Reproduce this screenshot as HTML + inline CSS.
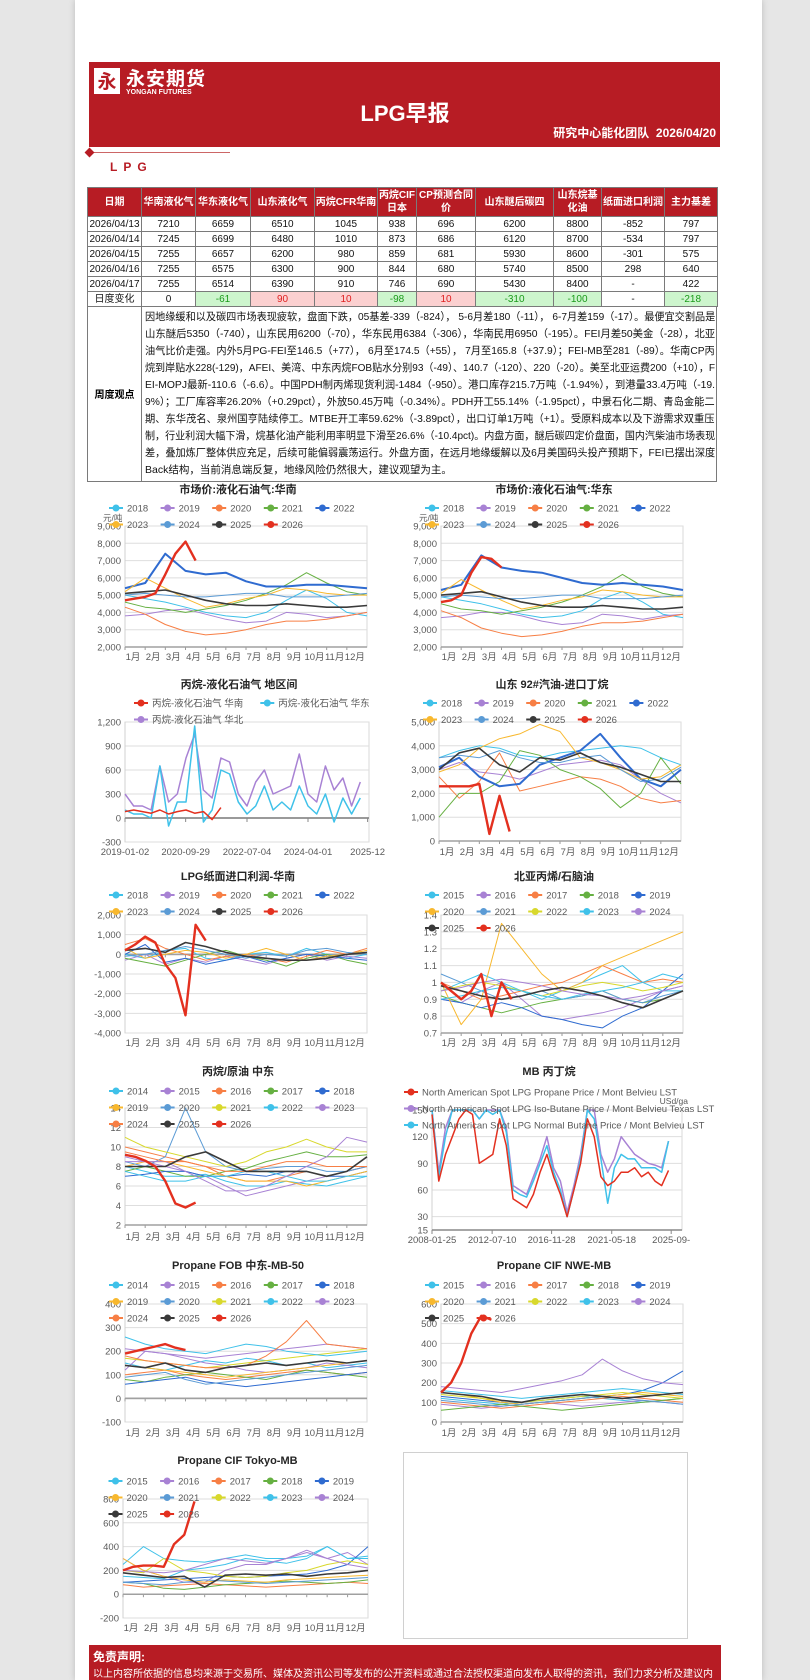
<!DOCTYPE html>
<html><head><meta charset="utf-8">
<style>
body{margin:0;width:810px;height:1680px;position:relative;overflow:hidden;background:#e6e6e6;font-family:"Liberation Sans","Noto Sans CJK SC",sans-serif;}
.abs{position:absolute;}
#sheet{left:75px;top:0;width:687px;height:1680px;background:#fff;box-shadow:0 0 6px #bbb;}
#band{left:89px;top:62px;width:631px;height:85px;background:#b71c24;}
table.dt{position:absolute;left:87px;top:187px;width:630px;border-collapse:collapse;table-layout:fixed;font-size:10px;color:#111;}
table.dt td{border:1px solid #7a7a7a;text-align:center;padding:0;height:14px;line-height:13px;white-space:nowrap;overflow:hidden;}
table.dt tr.hd td{background:#b71c24;color:#fff;font-weight:bold;height:28px;line-height:13px;white-space:normal;font-size:10px;}
td.g{background:#cdf5cd;color:#1a9a1a;}
td.r{background:#fbd0d0;color:#e02020;}
#txt{position:absolute;left:87px;top:306px;width:630px;height:176px;border:1px solid #7a7a7a;border-top:none;box-sizing:border-box;}
#txtlab{position:absolute;left:0;top:0;width:53px;height:175px;border-right:1px solid #7a7a7a;font-size:10px;font-weight:bold;display:flex;align-items:center;justify-content:center;}
.ln{position:absolute;left:57px;font-size:10.5px;white-space:nowrap;transform-origin:0 0;color:#111;}
#disc{left:89px;top:1645px;width:632px;height:35px;background:#b71c24;color:#fff;}
</style></head>
<body>
<div class="abs" id="sheet"></div>
<div class="abs" id="band"></div>
<div class="abs" style="left:94px;top:68px;width:26px;height:26px;background:#fff;color:#b71c24;font:bold 19px 'Noto Sans CJK SC',sans-serif;text-align:center;line-height:26px;">永</div>
<div class="abs" style="left:126px;top:64px;color:#fff;font:bold 19px 'Liberation Sans','Noto Sans CJK SC',sans-serif;letter-spacing:1px;">永安期货</div>
<div class="abs" style="left:126px;top:89px;color:#fff;font:bold 7px 'Liberation Sans',sans-serif;">YONGAN FUTURES</div>
<div class="abs" style="left:300px;top:96px;width:210px;text-align:center;color:#fff;font:bold 22px 'Liberation Sans','Noto Sans CJK SC',sans-serif;">LPG早报</div>
<div class="abs" style="left:440px;top:124px;width:276px;text-align:right;color:#fff;font:bold 12px 'Liberation Sans','Noto Sans CJK SC',sans-serif;">研究中心能化团队&nbsp; 2026/04/20</div>
<div class="abs" style="left:92px;top:152px;width:138px;height:1px;background:#c66;"></div>
<div class="abs" style="left:86px;top:149px;width:7px;height:7px;background:#b71c24;transform:rotate(45deg);"></div>
<div class="abs" style="left:110px;top:160px;color:#b71c24;font:bold 12px 'Liberation Sans',sans-serif;letter-spacing:6px;">LPG</div>

<table class="dt">
<colgroup><col style="width:54px"><col style="width:54px"><col style="width:55px"><col style="width:64px"><col style="width:63px"><col style="width:39px"><col style="width:59px"><col style="width:78px"><col style="width:48px"><col style="width:63px"><col style="width:53px"></colgroup>
<tr class="hd"><td>日期</td><td>华南液化气</td><td>华东液化气</td><td>山东液化气</td><td>丙烷CFR华南</td><td>丙烷CIF日本</td><td>CP预测合同价</td><td>山东醚后碳四</td><td>山东烷基化油</td><td>纸面进口利润</td><td>主力基差</td></tr>
<tr><td>2026/04/13</td><td>7210</td><td>6659</td><td>6510</td><td>1045</td><td>938</td><td>696</td><td>6200</td><td>8800</td><td>-852</td><td>797</td></tr>
<tr><td>2026/04/14</td><td>7245</td><td>6699</td><td>6480</td><td>1010</td><td>873</td><td>686</td><td>6120</td><td>8700</td><td>-534</td><td>797</td></tr>
<tr><td>2026/04/15</td><td>7255</td><td>6657</td><td>6200</td><td>980</td><td>859</td><td>681</td><td>5930</td><td>8600</td><td>-301</td><td>575</td></tr>
<tr><td>2026/04/16</td><td>7255</td><td>6575</td><td>6300</td><td>900</td><td>844</td><td>680</td><td>5740</td><td>8500</td><td>298</td><td>640</td></tr>
<tr><td>2026/04/17</td><td>7255</td><td>6514</td><td>6390</td><td>910</td><td>746</td><td>690</td><td>5430</td><td>8400</td><td>-</td><td>422</td></tr>
<tr><td>日度变化</td><td>0</td><td class="g">-61</td><td class="r">90</td><td class="r">10</td><td class="g">-98</td><td class="r">10</td><td class="g">-310</td><td class="g">-100</td><td>-</td><td class="g">-218</td></tr>
</table>
<div id="txt">
<div id="txtlab">周度观点</div>
<div class="ln" style="top:3px">因地缘缓和以及碳四市场表现疲软，盘面下跌，05基差-339（-824）， 5-6月差180（-11）， 6-7月差159（-17）。最便宜交割品是</div>
<div class="ln" style="top:20px">山东醚后5350（-740），山东民用6200（-70），华东民用6384（-306），华南民用6950（-195）。FEI月差50美金（-28），北亚</div>
<div class="ln" style="top:37px">油气比价走强。内外5月PG-FEI至146.5（+77）， 6月至174.5（+55）， 7月至165.8（+37.9）；FEI-MB至281（-89）。华南CP丙</div>
<div class="ln" style="top:54px">烷到岸贴水228(-129)，AFEI、美湾、中东丙烷FOB贴水分别93（-49）、140.7（-120）、220（-20）。美至北亚运费200（+10），F</div>
<div class="ln" style="top:71px">EI-MOPJ最新-110.6（-6.6）。中国PDH制丙烯现货利润-1484（-950）。港口库存215.7万吨（-1.94%），到港量33.4万吨（-19.</div>
<div class="ln" style="top:88px">9%）；工厂库容率26.20%（+0.29pct），外放50.45万吨（-0.34%）。PDH开工55.14%（-1.95pct），中景石化二期、青岛金能二</div>
<div class="ln" style="top:105px">期、东华茂名、泉州国亨陆续停工。MTBE开工率59.62%（-3.89pct），出口订单1万吨（+1）。受原料成本以及下游需求双重压</div>
<div class="ln" style="top:122px">制，行业利润大幅下滑，烷基化油产能利用率明显下滑至26.6%（-10.4pct)。内盘方面，醚后碳四定价盘面，国内汽柴油市场表现</div>
<div class="ln" style="top:139px">差，叠加炼厂整体供应充足，后续可能偏弱震荡运行。外盘方面，在远月地缘缓解以及6月美国码头投产预期下，FEI已摆出深度</div>
<div class="ln" style="top:156px">Back结构，当前消息端反复，地缘风险仍然很大，建议观望为主。</div>
</div>

<div class="abs" style="left:403px;top:1452px;width:285px;height:187px;border:1px solid #d0d0d0;box-sizing:border-box;"></div>
<div class="abs" id="disc">
<div style="position:absolute;left:4px;top:3px;font:bold 12px 'Liberation Sans','Noto Sans CJK SC',sans-serif;">免责声明:</div>
<div style="position:absolute;left:4px;top:20px;font-size:10px;white-space:nowrap;">以上内容所依据的信息均来源于交易所、媒体及资讯公司等发布的公开资料或通过合法授权渠道向发布人取得的资讯，我们力求分析及建议内</div>
</div>

<svg id="charts" class="abs" style="left:0;top:0" width="810" height="1680"></svg>

<script>
// ---------- data ----------
const monthLabels=['1月','2月','3月','4月','5月','6月','7月','8月','9月','10月','11月','12月'];
// chart 1: 华南
const hn2018=[5000,4800,4600,4300,4000,3800,3700,4000,4700,5300,4800,4000,3800];
const hn2019=[3800,3900,4100,4200,3900,3600,3400,3500,4000,3900,3700,3800,4000];
const hn2020=[4300,3900,3300,2900,2700,2800,3000,3300,3500,3500,3600,3800,4000];
const hn2021=[4600,4300,4200,4000,4200,4400,4700,5100,5600,6300,5700,5200,5000];
const hn2022=[5400,5700,7400,6400,6200,6300,5800,5500,5500,5600,5600,5500,5400];
const hn2023=[5200,6000,5400,4800,4300,4500,4800,5000,5400,5300,5100,5000,5000];
const hn2024=[5000,5100,5000,4900,4900,5000,5100,5100,4900,4900,4900,5000,5100];
const hn2025=[5100,5200,5300,5000,4700,4500,4400,4400,4500,4400,4300,4300,4400];
const hn2026=[4700,4800,4900,5100,6200,7400,8100,7000];
// chart 2: 华东
const hd2018=[4900,4700,4500,4200,3900,3700,3800,4100,4800,5200,4600,3900,3700];
const hd2019=[3700,3800,4000,4000,3800,3500,3300,3400,3900,3800,3600,3800,3900];
const hd2020=[4100,3700,3100,2800,2600,2700,2900,3200,3400,3400,3500,3700,3900];
const hd2021=[4500,4200,4100,3900,4100,4300,4600,5000,5500,6200,5500,5100,4900];
const hd2022=[5300,5600,7300,6600,6400,6300,6000,5700,5600,5700,5600,5500,5300];
const hd2023=[5100,5900,5300,4700,4200,4400,4700,4900,5300,5200,5000,4900,4900];
const hd2024=[4900,5000,4900,4800,4800,4900,5000,5000,4800,4800,4800,4900,5000];
const hd2025=[5000,5100,5200,4900,4600,4400,4300,4300,4400,4300,4200,4200,4300];
const hd2026=[4600,4700,5000,6300,7200,7100,6600];
// chart 3
const dateLabels3=['2019-01-02','2020-09-29','2022-07-04','2024-04-01','2025-12'];
const dateYears3=[0,1.74,3.5,5.25,6.96];
const rg_hb=[300,150,150,100,650,200,300,750,1050,350,250,750,700,300,150,450,600,300,350,400,800,300,200,650,350,500,150,450];
const rg_hd=[100,50,50,0,650,-100,200,200,1150,-50,100,600,550,200,50,150,400,100,200,100,400,150,50,300,-50,250,50,250];
const rg_hn=[80,100,80,60,100,50,80,100,60,80,-20,130];
// chart 4
const gs2018=[3500,3800,4000,3900,3600,3500,3700,3800,3900,4000,3900,3500,3200];
const gs2019=[3000,3300,2900,2800,2600,2900,3200,3300,3400,3200,2600,2000,1600];
const gs2020=[2700,1800,2500,3700,2100,2300,2500,2700,2600,2300,1800,1600,1700];
const gs2021=[1000,2000,2000,2500,3800,3600,3000,2700,2200,1400,2000,3500,2400];
const gs2022=[3100,3500,2700,2300,2400,3200,3500,3800,4500,3500,2600,2300,3000];
const gs2023=[2900,3200,3900,4300,4500,4900,4600,3500,3300,3000,2600,2700,3200];
const gs2024=[3500,3600,3500,3800,3500,3300,3300,3500,3600,3000,2500,2600,3100];
const gs2025=[3000,3700,3900,3200,2900,3500,3400,3700,3300,3100,2800,2500,2500];
const gs2026=[2300,2300,2300,2300,2400,300,1900,400];
// chart 5
const pf2018=[0,-200,200,300,-200,-300,0,100,-100,300,0,-200,0];
const pf2019=[-300,0,-500,-200,-400,-100,-300,-500,-200,0,-300,-100,-200];
const pf2020=[500,800,300,0,-300,-100,0,-200,-400,-100,200,0,300];
const pf2021=[-200,-400,-600,-300,0,200,-100,-300,-600,-200,0,-300,-500];
const pf2022=[0,500,-400,-200,-500,-300,-100,-400,-200,0,-100,-200,-300];
const pf2023=[300,-200,0,200,100,-200,0,300,0,-300,-100,0,200];
const pf2024=[-100,0,200,400,200,0,-200,0,-100,200,300,100,0];
const pf2025=[200,300,100,600,400,100,-100,-200,-300,-300,-200,0,100];
const pf2026=[200,500,900,600,-500,-1200,-3100,1500,700];
// chart 6
const pn2015=[0.95,1.0,1.05,1.0,0.95,0.9,0.95,1.0,1.05,1.1,1.0,0.95,0.95];
const pn2016=[0.9,0.88,0.95,1.0,0.9,0.8,0.78,0.8,0.82,0.85,0.9,0.95,0.98];
const pn2017=[1.0,0.95,0.9,0.92,0.95,0.98,1.0,1.05,1.1,1.05,1.0,1.02,1.0];
const pn2018=[0.92,0.88,0.85,0.82,0.85,0.88,0.9,0.92,0.95,0.9,0.88,0.9,0.95];
const pn2019=[0.9,0.88,0.85,0.88,0.85,0.8,0.78,0.75,0.73,0.8,0.85,0.95,1.05];
const pn2020=[1.0,0.75,0.9,1.35,1.2,1.05,0.95,1.0,1.1,1.15,1.2,1.25,1.3];
const pn2021=[1.05,1.0,0.95,0.9,0.92,0.95,0.9,0.92,0.95,0.9,0.88,0.92,0.95];
const pn2022=[0.95,0.98,1.0,0.98,0.95,0.92,0.95,0.98,1.0,0.98,0.95,0.97,1.0];
const pn2023=[0.9,0.92,0.95,0.97,0.95,0.92,0.9,0.93,0.95,0.97,1.0,1.05,1.02];
const pn2024=[0.95,0.97,1.0,1.02,1.0,0.98,0.95,0.93,0.92,0.9,0.92,0.95,0.98];
const pn2025=[0.98,0.95,0.92,0.9,0.92,0.95,0.97,0.95,0.92,0.88,0.85,0.9,0.95];
const pn2026=[1.0,0.95,0.9,0.95,1.05,0.8,1.0,0.9];
// chart 7
const pc2014=[8,7.5,7,7,7.2,6.5,6,6,6.5,6.2,6,6.5,7];
const pc2015=[9,8.5,8,7.5,7,6,5,5.5,6,6.5,7,7.5,8];
const pc2016=[10,9.5,9,8.5,8,7,6.5,6.5,7,7.5,7,7.5,8];
const pc2017=[7.5,8,7.5,7,7,7.5,7.8,8.5,9,9.5,9,9,9.2];
const pc2018=[7,7.2,7.5,7.5,7,7,7.2,7,7.5,7.5,7,7,7.5];
const pc2019=[8,8.5,8.5,8,7.5,7,6.5,6.5,6.5,6,6.5,7,7.5];
const pc2020=[8.5,8,9,14,9.5,8,7.5,7.8,8,8,7.5,7.5,8];
const pc2021=[11,10,9.5,9,8.5,8,8.5,9.5,10,10.8,10,9.5,9.5];
const pc2022=[7.5,7,6.5,6.5,7,7,7.5,7.5,7,6.5,6.5,7,7];
const pc2023=[8.5,8.5,8.5,7.5,6.5,5.5,5.5,6,7,8,9,11,10.5];
const pc2024=[9.5,9,8.5,8.5,8,7.5,7.5,8,8.5,8.5,8,8,8];
const pc2025=[8,8,8,9,9.5,8.5,7.5,7.5,7.5,7.5,7,7.5,9];
const pc2026=[9.2,9,8.6,8,6.5,4.2,3.8,4.3];
// chart 8
const mbDateLabels=['2008-01-25','2012-07-10','2016-11-28','2021-05-18','2025-09-'];
const mbDateYears=[0,4.45,8.85,13.3,17.7];
const mbPropane=[145,70,100,120,140,150,145,90,95,100,140,110,50,45,40,55,80,100,75,55,30,60,90,140,120,75,65,70,80,80,85,75,80,70,65,82];
const mbIsoButane=[150,80,130,150,150,150,150,140,150,150,150,130,65,60,55,75,95,120,85,70,35,65,100,150,150,100,80,95,120,110,100,95,90,88,85,115];
const mbNormButane=[150,75,120,150,150,150,150,140,150,145,150,125,60,55,52,70,90,110,80,60,30,60,95,150,140,95,45,85,100,95,95,85,85,85,80,115];
// chart 9
const fm2014=[150,130,120,140,160,150,170,160,140,150,130,140,150];
const fm2015=[120,200,190,170,150,140,120,110,120,130,150,140,130];
const fm2016=[100,110,120,100,90,80,90,100,110,120,110,100,110];
const fm2017=[80,70,90,100,110,100,90,80,100,120,110,100,90];
const fm2018=[60,70,80,90,70,60,50,60,70,80,90,100,110];
const fm2019=[140,130,120,110,100,90,100,110,120,130,140,150,160];
const fm2020=[90,100,110,80,60,70,80,90,100,110,120,130,140];
const fm2021=[170,160,150,140,130,140,150,160,170,180,190,200,210];
const fm2022=[260,230,210,200,190,210,230,220,200,190,180,190,200];
const fm2023=[210,200,190,180,170,180,190,200,210,220,230,220,210];
const fm2024=[180,160,150,140,130,130,140,180,240,330,230,220,210];
const fm2025=[140,130,150,120,110,130,140,150,140,150,160,150,160];
const fm2026=[190,200,210,220,230,215,205];
// chart 10
const nw2015=[120,110,100,90,100,110,120,130,120,110,100,110,120];
const nw2016=[90,80,70,80,90,100,90,80,90,100,110,100,90];
const nw2017=[100,90,80,70,80,90,100,110,120,130,120,110,100];
const nw2018=[60,70,80,90,80,70,60,70,80,90,100,110,120];
const nw2019=[130,120,110,100,90,100,110,120,130,140,160,200,260];
const nw2020=[150,140,120,100,90,100,110,120,130,140,150,140,130];
const nw2021=[110,100,90,80,90,100,110,120,130,120,110,100,90];
const nw2022=[140,130,120,110,100,110,120,130,140,150,140,130,120];
const nw2023=[160,150,140,130,120,130,140,150,160,170,160,150,140];
const nw2024=[180,170,160,150,170,190,210,240,320,260,220,200,190];
const nw2025=[150,140,130,110,100,120,130,140,130,120,130,140,150];
const nw2026=[150,200,300,450,540,520];
// chart 11
const tk2015=[250,400,300,280,270,300,330,300,300,320,400,300,320];
const tk2016=[300,200,150,100,100,200,250,250,300,370,300,350,250];
const tk2017=[80,60,70,80,90,80,70,60,70,80,90,100,90];
const tk2018=[100,90,50,40,60,80,90,100,110,100,90,100,120];
const tk2019=[100,110,120,130,140,150,140,150,160,170,200,250,400];
const tk2020=[300,200,150,120,100,120,110,100,120,130,140,150,160];
const tk2021=[100,90,80,100,120,110,100,90,100,110,120,130,140];
const tk2022=[200,180,300,200,180,150,140,150,180,200,250,280,250];
const tk2023=[150,140,130,200,220,250,300,280,260,300,400,300,300];
const tk2024=[200,190,180,200,250,300,280,260,300,350,300,250,220];
const tk2025=[180,160,140,150,60,160,170,160,170,150,170,180,200];
const tk2026=[200,230,240,240,230,420,500,780];

// ---------- drawing ----------
const NS='http://www.w3.org/2000/svg';
const svg=document.getElementById('charts');
const cyc=['#3fc1e9','#a882d4','#f77f45','#66b042','#2f6bd0','#f8b82e','#5b9bd5','#d8d82c'];
const BLACK='#3a3a3a', RED='#e3301f';
function mk(tag,attrs){const e=document.createElementNS(NS,tag);for(const k in attrs)e.setAttribute(k,attrs[k]);svg.appendChild(e);return e;}
function txt(x,y,s,size,anchor,color,weight){const e=mk('text',{x:x,y:y,'font-size':size,'text-anchor':anchor||'start',fill:color||'#595959','font-family':'Liberation Sans, Noto Sans CJK SC, sans-serif'});if(weight)e.setAttribute('font-weight',weight);e.textContent=s;return e;}
function sx(c,u){return c.x0+(u-c.umin)/(c.umax-c.umin)*(c.x1-c.x0);}
function sy(c,v){v=Math.max(c.vmin,Math.min(c.vmax,v));return c.bot-(v-c.vmin)/(c.vmax-c.vmin)*(c.bot-c.top);}
function fmt(v,c){if(c.dec)return (Math.round(v*10)/10).toString();return Math.abs(v)>=1000?v.toLocaleString('en-US'):String(v);}
function textW(s){let w=0;for(const ch of s)w+=ch.charCodeAt(0)>255?9.5:5.4;return w;}
function axes(c,ticks){
  const fr=mk('rect',{x:c.x0,y:c.top,width:c.x1-c.x0,height:c.bot-c.top,fill:'none',stroke:'#d9d9d9','stroke-width':1});
  
  
  ticks.forEach(t=>{
    const y=sy(c,t);
    const g=mk('line',{x1:c.x0,x2:c.x1,y1:y,y2:y,stroke:t===0&&c.vmin<0?'#a0a0a0':'#dedede','stroke-width':t===0&&c.vmin<0?1.5:1});
    
    
    const l=txt(c.x0-4,y+3.5,fmt(t,c),9.5,'end');
    
    
  });
  const ax=mk('line',{x1:c.x0,x2:c.x0,y1:c.top,y2:c.bot,stroke:'#d0d0d0'});
  
  
}
function monthAxis(c,ly){
  const by=c.vmin<0?sy(c,0):c.bot;
  for(let i=0;i<12;i++){
    const x=sx(c,i);
    const tk=mk('line',{x1:x,x2:x,y1:by,y2:by+3,stroke:'#999'});
    
    
    const l=txt(x+8,ly,monthLabels[i],9.5,'middle');
    
    
  }
  const bl=mk('line',{x1:c.x0,x2:c.x1,y1:by,y2:by,stroke:'#a0a0a0','stroke-width':1.5});
  
  
}
function dateAxis(c,labels,years,ly){
  const by=c.vmin<0?sy(c,0):c.bot;
  const bl=mk('line',{x1:c.x0,x2:c.x1,y1:by,y2:by,stroke:'#888','stroke-width':1.5});
  
  
  labels.forEach((s,i)=>{
    const x=sx(c,years[i]);
    const tk=mk('line',{x1:x,x2:x,y1:by,y2:by+4,stroke:'#888'});
    
    
    const l=txt(x,ly,s,9.5,'middle');
    
    
  });
}
function series(c,vals,u0,du,color,w,nm){
  const pts=vals.map((v,i)=>sx(c,u0+i*du).toFixed(1)+','+sy(c,v).toFixed(1)).join(' ');
  const p=mk('polyline',{points:pts,fill:'none',stroke:color,'stroke-width':w,'stroke-linejoin':'round'});
  
  
}
function title(c,s,y){const t=txt((c.x0+c.x1)/2-8,y,s,11,'middle','#262626','bold');}
function legend(c,rows,y0,startX){
  const w1=rows[0].reduce((a,e)=>a+30+textW(e[0]),0);
  const sx0=startX!==undefined?startX:(c.x0+c.x1)/2-8-w1/2;
  rows.forEach((row,ri)=>{
    let x=sx0;const y=y0+ri*16.5;
    row.forEach(e=>{
      const ln=mk('line',{x1:x,x2:x+14,y1:y,y2:y,stroke:e[1],'stroke-width':2});
      
      
      const ci=mk('circle',{cx:x+7,cy:y,r:3.5,fill:e[1]});
      
      
      const t=txt(x+18,y+3.5,e[0],9.5,'start','#595959');
      
      
      x+=30+textW(e[0]);
    });
  });
}
function yearColors(first,last){const o={};for(let y=first;y<=last;y++){o[y]=y===2025?BLACK:(y===2026?RED:cyc[(y-first)%8]);}return o;}
function seasonal(c,arrs,first){
  const cols=yearColors(first,2026);
  Object.keys(arrs).forEach(y=>{
    const yy=+y;
    const isNew=yy===2026;
    const w=isNew?2.4:(yy===2025?1.6:(c.thick===yy?2:1));
    series(c,arrs[y],0,isNew?0.5:1,cols[yy],w,c.name+'-series-'+y);
  });
}
function yearRows(first,perRow){const ys=[];for(let y=first;y<=2026;y++)ys.push(y);const cols=yearColors(first,2026);const rows=[];for(let i=0;i<ys.length;i+=perRow)rows.push(ys.slice(i,i+perRow).map(y=>[String(y),cols[y]]));return rows;}
function tickRange(a,b,s){const t=[];for(let v=a;v<=b+1e-9;v+=s)t.push(Math.round(v*100)/100);return t;}

let c={name:'south-china-lpg',x0:125,x1:367,top:526,bot:647,vmin:2000,vmax:9000,umin:0,umax:12,thick:2022};
axes(c,tickRange(2000,9000,1000));monthAxis(c,660);
seasonal(c,{2018:hn2018,2019:hn2019,2020:hn2020,2021:hn2021,2022:hn2022,2023:hn2023,2024:hn2024,2025:hn2025,2026:hn2026},2018);
title(c,'市场价:液化石油气:华南',493);legend(c,yearRows(2018,5),508);
txt(103,521,'元/吨',8.5,'start','#595959');
c={name:'east-china-lpg',x0:441,x1:683,top:526,bot:647,vmin:2000,vmax:9000,umin:0,umax:12,thick:2022};
axes(c,tickRange(2000,9000,1000));monthAxis(c,660);
seasonal(c,{2018:hd2018,2019:hd2019,2020:hd2020,2021:hd2021,2022:hd2022,2023:hd2023,2024:hd2024,2025:hd2025,2026:hd2026},2018);
title(c,'市场价:液化石油气:华东',493);legend(c,yearRows(2018,5),508);
txt(419,521,'元/吨',8.5,'start','#595959');
c={name:'regional-spread',x0:125,x1:369,top:722,bot:842,vmin:-300,vmax:1200,umin:0,umax:7};
axes(c,tickRange(-300,1200,300));dateAxis(c,dateLabels3,dateYears3,855);
series(c,rg_hb,0,0.25,'#a882d4',1.5,'series-north-china');
series(c,rg_hd,0,0.25,'#3fc1e9',1.5,'series-east-china');
series(c,rg_hn,0,0.25,'#e3301f',1.5,'series-south-china');
title(c,'丙烷-液化石油气 地区间',688);
legend(c,[[['丙烷-液化石油气 华南','#e3301f'],['丙烷-液化石油气 华东','#3fc1e9']],[['丙烷-液化石油气 华北','#a882d4']]],703,134);
c={name:'gasoline-butane-spread',x0:439,x1:681,top:722,bot:841,vmin:0,vmax:5000,umin:0,umax:12,thick:2022};
axes(c,tickRange(0,5000,1000));monthAxis(c,855);
seasonal(c,{2018:gs2018,2019:gs2019,2020:gs2020,2021:gs2021,2022:gs2022,2023:gs2023,2024:gs2024,2025:gs2025,2026:gs2026},2018);
title(c,'山东 92#汽油-进口丁烷',688);legend(c,yearRows(2018,5),703);
c={name:'import-profit',x0:125,x1:367,top:915,bot:1033,vmin:-4000,vmax:2000,umin:0,umax:12};
axes(c,tickRange(-4000,2000,1000));monthAxis(c,1046);
seasonal(c,{2018:pf2018,2019:pf2019,2020:pf2020,2021:pf2021,2022:pf2022,2023:pf2023,2024:pf2024,2025:pf2025,2026:pf2026},2018);
title(c,'LPG纸面进口利润-华南',880);legend(c,yearRows(2018,5),895);
c={name:'propylene-naphtha',x0:441,x1:683,top:915,bot:1033,vmin:0.7,vmax:1.4,umin:0,umax:12,dec:true};
axes(c,tickRange(0.7,1.4,0.1));monthAxis(c,1046);
seasonal(c,{2015:pn2015,2016:pn2016,2017:pn2017,2018:pn2018,2019:pn2019,2020:pn2020,2021:pn2021,2022:pn2022,2023:pn2023,2024:pn2024,2025:pn2025,2026:pn2026},2015);
title(c,'北亚丙烯/石脑油',880);legend(c,yearRows(2015,5),895);
c={name:'propane-crude',x0:125,x1:367,top:1108,bot:1225,vmin:2,vmax:14,umin:0,umax:12};
axes(c,tickRange(2,14,2));monthAxis(c,1240);
seasonal(c,{2014:pc2014,2015:pc2015,2016:pc2016,2017:pc2017,2018:pc2018,2019:pc2019,2020:pc2020,2021:pc2021,2022:pc2022,2023:pc2023,2024:pc2024,2025:pc2025,2026:pc2026},2014);
title(c,'丙烷/原油 中东',1075);legend(c,yearRows(2014,5),1091);
c={name:'mb-propane-butane',x0:432,x1:682,top:1110,bot:1230,vmin:15,vmax:150,umin:0,umax:18.5};
axes(c,[15,30,60,90,120,150]);dateAxis(c,mbDateLabels,mbDateYears,1243);
series(c,mbIsoButane,0,0.5,'#a882d4',1.5,'series-iso-butane');
series(c,mbNormButane,0,0.5,'#3fc1e9',1.5,'series-normal-butane');
series(c,mbPropane,0,0.5,'#e3301f',1.5,'series-propane');
title(c,'MB 丙丁烷',1075);
legend(c,[[['North American Spot LPG Propane Price / Mont Belvieu LST','#e3301f']],[['North American Spot LPG Iso-Butane Price / Mont Belvieu Texas LST','#a882d4']],[['North American Spot LPG Normal Butane Price / Mont Belvieu LST','#3fc1e9']]],1092,404);
txt(688,1104,'USd/ga',8.5,'end','#595959');
c={name:'propane-fob-me',x0:125,x1:367,top:1304,bot:1422,vmin:-100,vmax:400,umin:0,umax:12};
axes(c,tickRange(-100,400,100));monthAxis(c,1436);
seasonal(c,{2014:fm2014,2015:fm2015,2016:fm2016,2017:fm2017,2018:fm2018,2019:fm2019,2020:fm2020,2021:fm2021,2022:fm2022,2023:fm2023,2024:fm2024,2025:fm2025,2026:fm2026},2014);
title(c,'Propane FOB 中东-MB-50',1269);legend(c,yearRows(2014,5),1285);
c={name:'propane-cif-nwe',x0:441,x1:683,top:1304,bot:1422,vmin:0,vmax:600,umin:0,umax:12};
axes(c,tickRange(0,600,100));monthAxis(c,1436);
seasonal(c,{2015:nw2015,2016:nw2016,2017:nw2017,2018:nw2018,2019:nw2019,2020:nw2020,2021:nw2021,2022:nw2022,2023:nw2023,2024:nw2024,2025:nw2025,2026:nw2026},2015);
title(c,'Propane CIF NWE-MB',1269);legend(c,yearRows(2015,5),1285);
c={name:'propane-cif-tokyo',x0:123,x1:368,top:1499,bot:1618,vmin:-200,vmax:800,umin:0,umax:12};
axes(c,tickRange(-200,800,200));monthAxis(c,1631);
seasonal(c,{2015:tk2015,2016:tk2016,2017:tk2017,2018:tk2018,2019:tk2019,2020:tk2020,2021:tk2021,2022:tk2022,2023:tk2023,2024:tk2024,2025:tk2025,2026:tk2026},2015);
title(c,'Propane CIF Tokyo-MB',1464);legend(c,yearRows(2015,5),1481);

document.querySelectorAll('.ln').forEach(d=>{const w=d.scrollWidth;if(w>570)d.style.transform='scaleX('+(570/w)+')';});
</script>
</body></html>
